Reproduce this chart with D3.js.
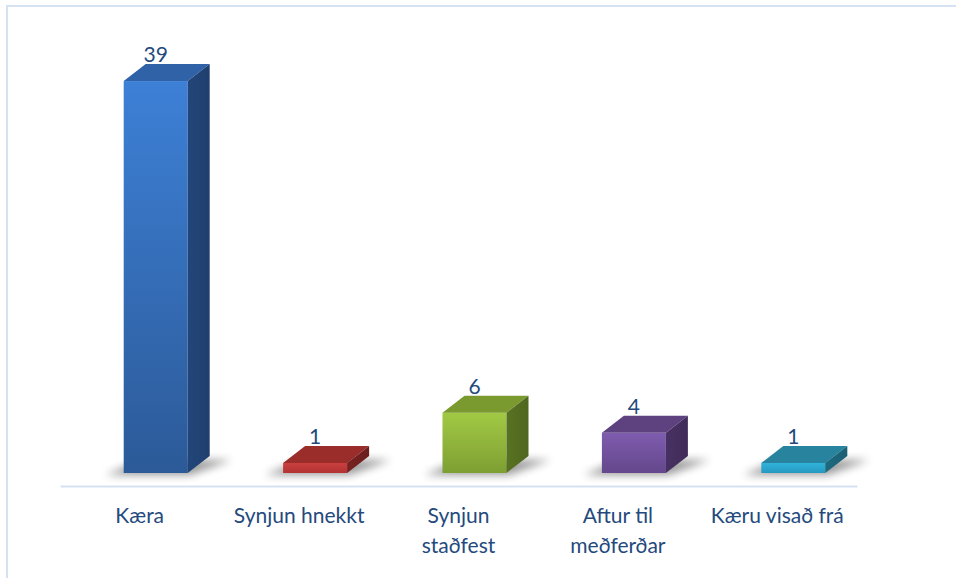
<!DOCTYPE html>
<html>
<head>
<meta charset="utf-8">
<script src="https://cdn.jsdelivr.net/npm/d3@7"></script>
<style>
  body { margin: 0; background: #fff; }
  svg { display: block; }
  text { font-family: Lato, "Open Sans", sans-serif; fill: #244a7d; }
</style>
</head>
<body>
<script>
var categories = ["Kæra", "Synjun hnekkt", "Synjun staðfest", "Aftur til meðferðar", "Kæru visað frá"];
var tickLines = [["Kæra"], ["Synjun hnekkt"], ["Synjun", "staðfest"], ["Aftur til", "meðferðar"], ["Kæru visað frá"]];
var values = [39, 1, 6, 4, 1];

// front-top, front-bottom, top, side
var palette = [
  ["#3d80d6", "#2c5a98", "#2f62a6", "#22467a"],
  ["#c9403f", "#b23332", "#9a2c2a", "#772220"],
  ["#a2c944", "#7d9f33", "#7a9a30", "#587222"],
  ["#7f5cae", "#64478c", "#5e4280", "#473163"],
  ["#31b3db", "#2599c0", "#28849e", "#1d6a80"]
];

var width = 956, height = 578;
var faceW = 64, dx = 22, dy = 17, shift = 16;

var svg = d3.select("body").append("svg")
  .attr("width", width)
  .attr("height", height);

var defs = svg.append("defs");
defs.append("filter").attr("id", "blur")
  .attr("x", "-50%").attr("y", "-50%").attr("width", "200%").attr("height", "200%")
  .append("feGaussianBlur").attr("stdDeviation", 4);

palette.forEach(function (c, i) {
  var g = defs.append("linearGradient").attr("id", "front" + i)
    .attr("x1", 0).attr("y1", 0).attr("x2", 0).attr("y2", 1);
  g.append("stop").attr("offset", "0%").attr("stop-color", c[0]);
  g.append("stop").attr("offset", "100%").attr("stop-color", c[1]);
  var s = defs.append("linearGradient").attr("id", "side" + i)
    .attr("x1", 0).attr("y1", 0).attr("x2", 1).attr("y2", 0);
  s.append("stop").attr("offset", "0%").attr("stop-color", c[3]);
  s.append("stop").attr("offset", "100%").attr("stop-color", d3.color(c[3]).darker(0.3));
});

// chart area border
svg.append("rect")
  .attr("x", 7).attr("y", 6)
  .attr("width", width).attr("height", height)
  .attr("fill", "none")
  .attr("stroke", "#d5e2f1")
  .attr("stroke-width", 2);

var x = d3.scaleBand().domain(categories).range([60, 857]);
var y = d3.scaleLinear().domain([0, 40]).range([473, 71]);

function left(i) { return x(categories[i]) + x.bandwidth() / 2 - shift; }

// axis line
var axis = svg.append("g")
  .attr("transform", "translate(0,486)")
  .call(d3.axisBottom(x).tickSize(0).tickFormat(""));
axis.select(".domain").attr("stroke", "#d5e2f1").attr("stroke-width", 2);

var bars = svg.selectAll(".bar")
  .data(values)
  .enter().append("g")
  .attr("class", "bar");

// floor shadow
bars.append("path")
  .attr("fill", "#000")
  .attr("opacity", 0.4)
  .attr("filter", "url(#blur)")
  .attr("d", function (d, i) {
    var x0 = left(i);
    var b = y(0);
    return "M" + (x0 - 18) + "," + (b + 2) +
      "L" + (x0 + faceW + 2) + "," + (b + 2) +
      "L" + (x0 + faceW + dx + 22) + "," + (b - dy + 4) +
      "L" + (x0 + dx - 4) + "," + (b - dy + 4) + "Z";
  });

// front face
bars.append("rect")
  .attr("x", function (d, i) { return left(i); })
  .attr("y", function (d) { return y(d); })
  .attr("width", faceW)
  .attr("height", function (d) { return y(0) - y(d); })
  .attr("fill", function (d, i) { return "url(#front" + i + ")"; });

// top face
bars.append("path")
  .attr("fill", function (d, i) { return palette[i][2]; })
  .attr("d", function (d, i) {
    var x0 = left(i), t = y(d);
    return "M" + x0 + "," + t + "L" + (x0 + dx) + "," + (t - dy) +
      "L" + (x0 + faceW + dx) + "," + (t - dy) + "L" + (x0 + faceW) + "," + t + "Z";
  });

// side face
bars.append("path")
  .attr("fill", function (d, i) { return "url(#side" + i + ")"; })
  .attr("d", function (d, i) {
    var x1 = left(i) + faceW, t = y(d), b = y(0);
    return "M" + x1 + "," + t + "L" + (x1 + dx) + "," + (t - dy) +
      "L" + (x1 + dx) + "," + (b - dy) + "L" + x1 + "," + b + "Z";
  });

// value labels
bars.append("text")
  .attr("x", function (d, i) { return left(i) + faceW / 2; })
  .attr("y", function (d) { return y(d) - 19; })
  .attr("text-anchor", "middle")
  .style("font-size", "21px")
  .text(function (d) { return d; });

// category labels
svg.selectAll(".cat")
  .data(tickLines)
  .enter().append("text")
  .attr("class", "cat")
  .attr("text-anchor", "middle")
  .style("font-size", "21px")
  .attr("transform", function (d, i) { return "translate(" + (x(categories[i]) + x.bandwidth() / 2) + ",523)"; })
  .selectAll("tspan")
  .data(function (d) { return d; })
  .enter().append("tspan")
  .attr("x", 0)
  .attr("dy", function (d, j) { return j ? 30 : 0; })
  .text(function (d) { return d; });
</script>
</body>
</html>
